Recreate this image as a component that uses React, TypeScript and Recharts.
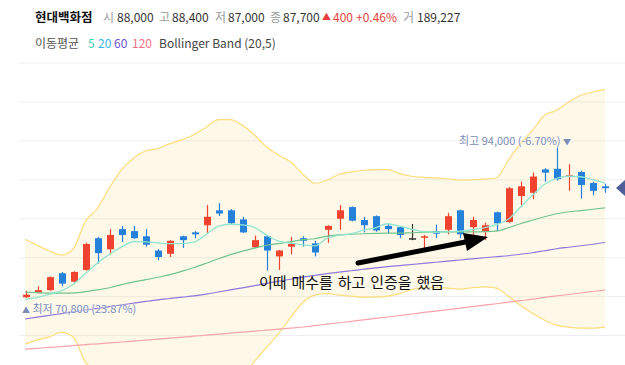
import React from 'react';
import { ComposedChart, Bar, Line, Area, XAxis, YAxis, CartesianGrid } from 'recharts';

// daily candles (KRW)
const opens = [70900, 71600, 72000, 74600, 73300, 75100, 80000, 78300, 81400, 81100, 80300, 78100, 77600, 80300, 80900, 82000, 84300, 84300, 82900, 78600, 80300, 77200, 78700, 80000, 79200, 81300, 83000, 84800, 82800, 83400, 81900, 81700, 80000, 80200, 81100, 81300, 84300, 81700, 81000, 84000, 82500, 86500, 87000, 90600, 90700, 89500, 90200, 88500, 88000];
const highs = [71900, 72600, 74100, 74800, 74900, 79300, 80200, 81400, 81900, 81900, 81400, 78300, 79700, 80400, 81100, 85100, 85400, 84500, 83300, 80400, 80400, 78200, 80200, 80300, 79600, 82000, 85100, 84900, 83300, 83500, 82200, 81800, 82200, 80500, 82100, 83900, 84400, 83300, 82400, 84100, 87900, 88700, 90100, 90800, 94000, 91400, 90400, 88700, 88400];
const lows = [70800, 71500, 71900, 72600, 73200, 75000, 76100, 77500, 79400, 79900, 78700, 76600, 77100, 78500, 80000, 80700, 83400, 82200, 80800, 78500, 75000, 75100, 77500, 78700, 77200, 79300, 81300, 82600, 80900, 81000, 80700, 80000, 79700, 78200, 80000, 80600, 80000, 80500, 79700, 81100, 82400, 85100, 86000, 88700, 88900, 87300, 86100, 86600, 87000];
const closes = [71300, 72000, 74000, 73000, 74800, 79100, 77700, 80500, 80500, 80000, 79000, 77100, 79600, 79700, 80600, 83300, 83800, 82300, 80900, 79700, 78100, 78100, 79100, 79600, 77800, 81900, 84300, 82700, 82000, 81200, 81400, 80500, 80000, 80300, 80700, 83400, 80600, 82800, 82000, 82300, 87700, 88000, 89500, 90100, 89100, 89700, 88200, 87300, 87700];

// moving averages
const ma5 = [70560, 70870, 71330, 71880, 72910, 74560, 76190, 77530, 78660, 79490, 79430, 79270, 79180, 79180, 79380, 80610, 81850, 82150, 82050, 81650, 80460, 79540, 79230, 78970, 78810, 80000, 80460, 80690, 81230, 81610, 82230, 81850, 81380, 81000, 80920, 80970, 81080, 81310, 81610, 82080, 82920, 84770, 86620, 88310, 89240, 89550, 89470, 89010, 88470];
const ma20 = [71680, 71600, 71530, 71530, 71570, 71760, 72040, 72370, 72840, 73270, 73610, 73990, 74380, 74920, 75490, 76150, 76840, 77460, 78000, 78460, 78920, 79180, 79460, 79770, 79920, 80310, 80510, 80610, 80690, 80740, 80770, 80770, 80840, 80920, 80970, 80970, 80970, 80970, 81000, 81080, 81610, 82230, 82770, 83310, 83770, 84080, 84260, 84460, 84690];
const ma60 = [67550, 67830, 68110, 68370, 68650, 68940, 69190, 69450, 69730, 69990, 70260, 70510, 70710, 70910, 71100, 71370, 71710, 72050, 72360, 72680, 73040, 73380, 73680, 73990, 74270, 74530, 74760, 74990, 75220, 75440, 75610, 75790, 75950, 76120, 76300, 76460, 76640, 76810, 76990, 77150, 77300, 77530, 77760, 78070, 78380, 78610, 78840, 79070, 79340];
const ma120 = [62900, 63030, 63170, 63300, 63440, 63600, 63720, 63860, 64010, 64140, 64290, 64440, 64600, 64750, 64910, 65060, 65210, 65370, 65520, 65680, 65830, 65980, 66140, 66320, 66520, 66750, 66970, 67180, 67420, 67650, 67860, 68090, 68320, 68560, 68770, 68990, 69220, 69450, 69680, 69900, 70140, 70370, 70600, 70870, 71100, 71330, 71560, 71790, 71990];

// bollinger band (20,5)
const bbUpper = [79840, 78920, 78070, 77380, 78380, 82620, 84620, 87850, 90580, 92360, 93470, 93810, 94580, 95200, 95970, 97140, 98280, 98280, 97400, 95860, 94060, 92780, 91750, 89850, 88470, 88930, 89850, 90210, 90470, 90580, 90580, 89960, 89550, 89390, 89310, 89160, 88930, 89010, 89110, 89280, 92010, 94580, 96630, 98940, 99710, 100990, 102020, 102530, 102940];
const bbLower = [63670, 64290, 64800, 65480, 64750, 60900, 59450, 56900, 55100, 54170, 53740, 54170, 54170, 54630, 55000, 55160, 55400, 56640, 58590, 61060, 63210, 65320, 67830, 70140, 71220, 71450, 71220, 71070, 70910, 70910, 71070, 71450, 72070, 72370, 72370, 72300, 72140, 72370, 72500, 72300, 71070, 69680, 68450, 67370, 66600, 66290, 66140, 66140, 66290];

const gridTicks = [65000, 71000, 77000, 83000, 89000, 95000, 101000];

const rows = opens.map((open, i) => ({
  day: i,
  open,
  high: highs[i],
  low: lows[i],
  close: closes[i],
  ma5: ma5[i],
  ma20: ma20[i],
  ma60: ma60[i],
  ma120: ma120[i],
  bbUp: bbUpper[i],
  bbLow: bbLower[i],
}));

const UP = '#f0432f';
const DOWN = '#2580da';
const FONT = "'Noto Sans CJK KR', 'Noto Sans', sans-serif";

const Candle = (props: any) => {
  const { x, y, width, height, payload } = props;
  if (!payload) return null;
  const { open, close, high, low } = payload;
  const top = Math.min(y, y + height);
  const h = Math.abs(height);
  const k = high > low ? h / (high - low) : 0;
  const cx = Math.round(x + width / 2) + 0.5;
  const yO = top + (high - open) * k;
  const yC = top + (high - close) * k;
  const color = close > open ? UP : close < open ? DOWN : '#333';
  const bodyTop = Math.min(yO, yC);
  const bodyH = Math.max(Math.abs(yO - yC), 1.5);
  return (
    <g>
      <line x1={cx} x2={cx} y1={top} y2={top + h} stroke={color} strokeWidth={1.2} />
      <rect x={cx - 3.5} y={bodyTop} width={7} height={bodyH} fill={color} />
    </g>
  );
};

const span = (left: number, text: string, color: string, extra: React.CSSProperties = {}) => (
  <span style={{ position: 'absolute', left, top: 0, color, whiteSpace: 'nowrap', ...extra }}>{text}</span>
);

const App = () => {
  return (
    <div style={{ position: 'absolute', left: 0, top: 0, width: 625, height: 365, overflow: 'hidden', background: '#fff', fontFamily: FONT }}>
      <div style={{ position: 'absolute', left: 0, top: 7, width: 625, height: 20, fontSize: 12, lineHeight: '20px' }}>
        {span(35, '현대백화점', '#111', { fontWeight: 700, fontSize: 12.5 })}
        {span(103, '시', '#9a9a9a')}
        {span(117, '88,000', '#333')}
        {span(159, '고', '#9a9a9a')}
        {span(172, '88,400', '#333')}
        {span(215, '저', '#9a9a9a')}
        {span(228, '87,000', '#333')}
        {span(270, '종', '#9a9a9a')}
        {span(283, '87,700', '#333')}
        {span(322, '▲', '#e8413b', { fontSize: 9 })}
        {span(333, '400', '#e8413b')}
        {span(356, '+0.46%', '#e8413b')}
        {span(403, '거', '#9a9a9a')}
        {span(417, '189,227', '#333')}
      </div>
      <div style={{ position: 'absolute', left: 0, top: 33, width: 625, height: 20, fontSize: 12, lineHeight: '20px' }}>
        {span(35, '이동평균', '#555')}
        {span(88, '5', '#3dd6b2')}
        {span(98, '20', '#3ab4ee')}
        {span(114, '60', '#6b50d6')}
        {span(132, '120', '#fb7088')}
        {span(159, 'Bollinger Band (20,5)', '#444')}
      </div>

      <div style={{ position: 'absolute', left: 0, top: 0 }}>
        <ComposedChart width={625} height={368} data={rows} margin={{ top: 63, right: 0, bottom: 0, left: 19 }}>
          <XAxis dataKey="day" type="category" hide padding={{ left: 0, right: 14 }} />
          <YAxis hide domain={[60000, 107000]} allowDataOverflow ticks={gridTicks} />
          <CartesianGrid vertical={false} stroke="#eceef1" />
          <Area dataKey={(d: any) => [d.bbLow, d.bbUp]} type="monotone" stroke="none" fill="#f8e39a" fillOpacity={0.24} isAnimationActive={false} />
          <Line dataKey="bbUp" type="monotone" stroke="#fddc7a" strokeWidth={1.2} dot={false} isAnimationActive={false} />
          <Line dataKey="bbLow" type="monotone" stroke="#fddc7a" strokeWidth={1.2} dot={false} isAnimationActive={false} />
          <Line dataKey="ma120" type="monotone" stroke="#f7a3aa" strokeWidth={1.2} dot={false} isAnimationActive={false} />
          <Line dataKey="ma60" type="monotone" stroke="#8d78dc" strokeWidth={1.2} dot={false} isAnimationActive={false} />
          <Line dataKey="ma20" type="monotone" stroke="#72c48f" strokeWidth={1.2} dot={false} isAnimationActive={false} />
          <Line dataKey="ma5" type="monotone" stroke="#8fe5cf" strokeWidth={1.3} dot={false} isAnimationActive={false} />
          <Bar dataKey={(d: any) => [d.low, d.high]} barSize={7} shape={Candle} isAnimationActive={false} />
        </ComposedChart>
      </div>

      <div style={{ position: 'absolute', left: 459, top: 132, fontSize: 11, lineHeight: '16px', color: '#7b8cb7', whiteSpace: 'nowrap', textShadow: '0 0 2px #fff, 0 0 2px #fff' }}>
        최고 94,000 (-6.70%) <span style={{ fontSize: 8 }}>▼</span>
      </div>
      <div style={{ position: 'absolute', left: 22, top: 300, fontSize: 11, lineHeight: '16px', color: '#7b8cb7', whiteSpace: 'nowrap', textShadow: '0 0 2px #fff, 0 0 2px #fff' }}>
        <span style={{ fontSize: 8 }}>▲</span> 최저 70,800 (23.87%)
      </div>

      <svg width={625} height={365} style={{ position: 'absolute', left: 0, top: 0, pointerEvents: 'none' }}>
        <line x1={358} y1={263} x2={468} y2={241.5} stroke="#000" strokeWidth={5} strokeLinecap="round" />
        <polygon points="463,233 467,251 488,237" fill="#000" />
        <polygon points="616,188 625,180 625,196" fill="#4d5f96" />
      </svg>
      <div style={{ position: 'absolute', left: 259, top: 272, fontSize: 15, lineHeight: '20px', color: '#111', whiteSpace: 'nowrap', wordSpacing: 1.5 }}>
        이때 매수를 하고 인증을 했음
      </div>
    </div>
  );
};

export default App;
